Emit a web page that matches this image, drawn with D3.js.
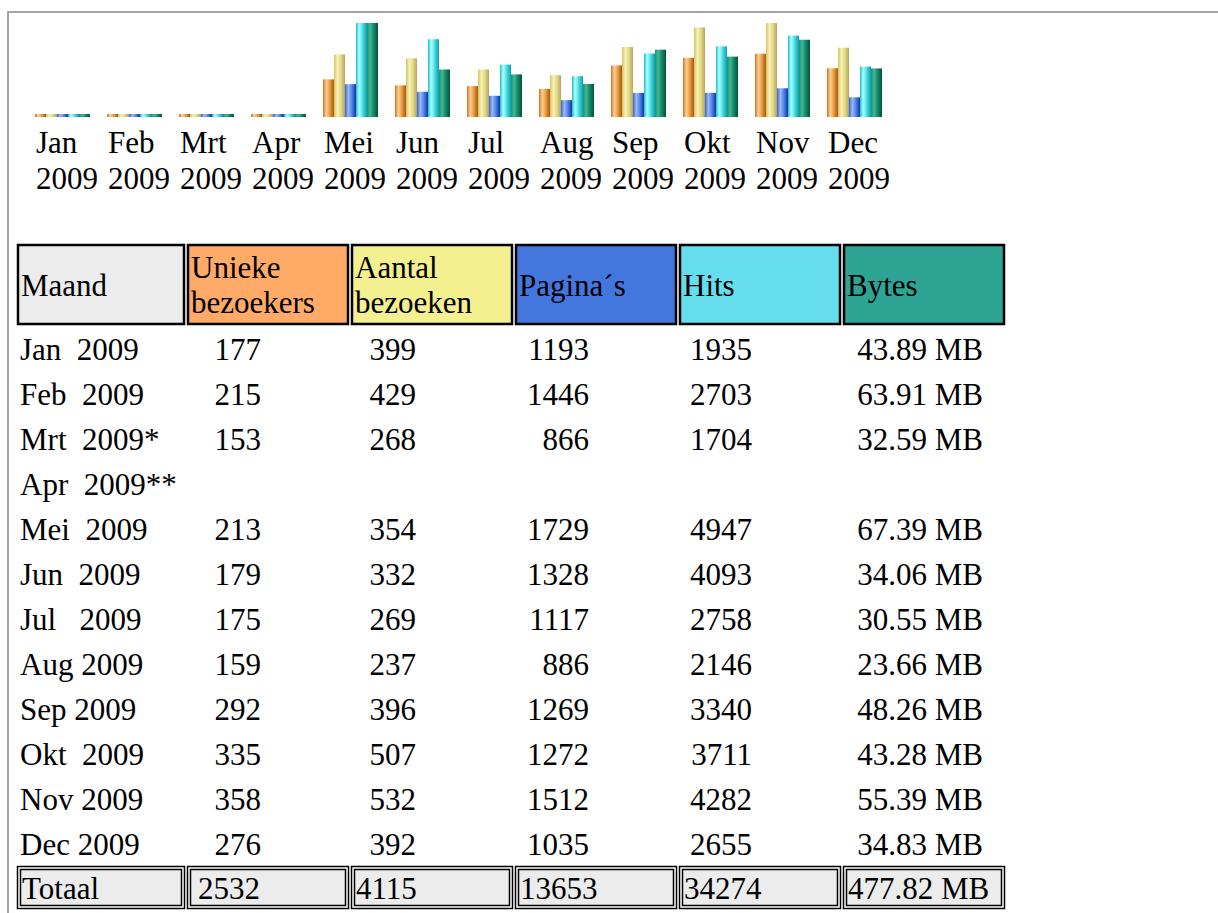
<!DOCTYPE html>
<html>
<head>
<meta charset="utf-8">
<script src="https://cdn.jsdelivr.net/npm/d3@7"></script>
<style>
  body { margin: 0; background: #fff; }
  svg text { font-family: "Liberation Serif", "Times New Roman", serif; font-size: 31px; fill: #000; white-space: pre; }
</style>
</head>
<body>
<div id="chart"></div>
<script>
;(function() {
    // maanden en de waarden uit de tabel
    var maanden = ['Jan', 'Feb', 'Mrt', 'Apr', 'Mei', 'Jun', 'Jul', 'Aug', 'Sep', 'Okt', 'Nov', 'Dec'];
    var jaar = '2009';
    var rijLabels = ['Jan  2009', 'Feb  2009', 'Mrt  2009*', 'Apr  2009**', 'Mei  2009', 'Jun  2009',
                     'Jul   2009', 'Aug 2009', 'Sep 2009', 'Okt  2009', 'Nov 2009', 'Dec 2009'];
    var uniek    = [177, 215, 153, null, 213, 179, 175, 159, 292, 335, 358, 276];
    var bezoeken = [399, 429, 268, null, 354, 332, 269, 237, 396, 507, 532, 392];
    var paginas  = [1193, 1446, 866, null, 1729, 1328, 1117, 886, 1269, 1272, 1512, 1035];
    var hits     = [1935, 2703, 1704, null, 4947, 4093, 2758, 2146, 3340, 3711, 4282, 2655];
    var bytesMB  = [43.89, 63.91, 32.59, null, 67.39, 34.06, 30.55, 23.66, 48.26, 43.28, 55.39, 34.83];
    // de grafiek heeft pas gegevens vanaf mei, jan-apr staan er leeg in
    var inGrafiek = [0, 0, 0, 0, 1, 1, 1, 1, 1, 1, 1, 1];
    var koppen = [['Maand'], ['Unieke', 'bezoekers'], ['Aantal', 'bezoeken'], ['Pagina\u00b4s'], ['Hits'], ['Bytes']];
    var totalen = ['Totaal', '2532', '4115', '13653', '34274', '477.82 MB'];

    var kopKleuren = ['#ececec', '#ffaa66', '#f4f090', '#4477dd', '#66dded', '#2ea495'];
    var staafVerloop = [
        ['#cf7414', '#ffcf98', '#eba04a', '#a65606'],
        ['#d6c45a', '#f6f1b6', '#e6dc8c', '#b3a455'],
        ['#3364de', '#9cb8fa', '#5b86ea', '#0d33a8'],
        ['#14c6cf', '#b4ffff', '#4cdde4', '#0f9ea6'],
        ['#0e9a72', '#46b59a', '#17876a', '#005533']
    ];

    var W = 1218, H = 913, basis = 117, maxH = 94;

    var svg = d3.select('#chart').append('svg')
        .attr('width', W).attr('height', H);

    var defs = svg.append('defs');
    staafVerloop.forEach(function(c, i) {
        var g = defs.append('linearGradient').attr('id', 'vl' + i)
            .attr('x1', 0).attr('x2', 1).attr('y1', 0).attr('y2', 0);
        [0, 0.3, 0.6, 1].forEach(function(o, j) {
            g.append('stop').attr('offset', o).attr('stop-color', c[j]);
        });
    });

    // grijze rand boven en links
    svg.append('path')
        .attr('d', 'M8,' + H + 'V12H' + W)
        .attr('fill', 'none').attr('stroke', '#a3a3a3').attr('stroke-width', 2);

    // staafgrafiek
    var x = d3.scaleBand().domain(maanden).range([35, 882]).paddingInner(17 / 72).paddingOuter(0);
    var xs = d3.scaleBand().domain(d3.range(5)).range([0, x.bandwidth()]);

    var grafiekWaarde = function(reeks) {
        return reeks.map(function(v, i) { return inGrafiek[i] ? v : 0; });
    };
    var reeksen = [grafiekWaarde(uniek), grafiekWaarde(bezoeken), grafiekWaarde(paginas),
                   grafiekWaarde(hits), grafiekWaarde(bytesMB)];

    var yBezoek = d3.scaleLinear().domain([0, d3.max(reeksen[1])]).range([0, maxH]);
    var yHits = d3.scaleLinear().domain([0, d3.max(reeksen[3])]).range([0, maxH]);
    var yBytes = d3.scaleLinear().domain([0, d3.max(reeksen[4])]).range([0, maxH]);
    var schalen = [yBezoek, yBezoek, yHits, yHits, yBytes];

    var groepen = svg.selectAll('g.maand')
        .data(maanden)
        .enter().append('g')
        .attr('class', 'maand')
        .attr('transform', function(d) { return 'translate(' + x(d) + ',0)'; });

    groepen.selectAll('rect')
        .data(function(d, i) {
            return reeksen.map(function(r, s) { return { s: s, h: Math.max(3, schalen[s](r[i])) }; });
        })
        .enter().append('rect')
        .attr('x', function(d) { return xs(d.s); })
        .attr('width', xs.bandwidth())
        .attr('y', function(d) { return basis - d.h; })
        .attr('height', function(d) { return d.h; })
        .attr('fill', function(d) { return 'url(#vl' + d.s + ')'; });

    groepen.append('text').attr('x', 1).attr('y', 153).text(function(d) { return d; });
    groepen.append('text').attr('x', 1).attr('y', 189).text(jaar);

    // tabel
    var kolX = [17, 187, 351, 515, 679, 843];
    var kolB = [168, 162, 162, 162, 162, 162];
    var kop = svg.append('g').attr('class', 'kop');

    kop.selectAll('rect')
        .data(koppen)
        .enter().append('rect')
        .attr('x', function(d, i) { return kolX[i] + 1; })
        .attr('y', 245)
        .attr('width', function(d, i) { return kolB[i] - 2; })
        .attr('height', 79)
        .attr('fill', function(d, i) { return kopKleuren[i]; })
        .attr('stroke', '#000').attr('stroke-width', 2.5);

    kop.selectAll('text')
        .data(koppen)
        .enter().append('text')
        .attr('x', function(d, i) { return kolX[i] + 4; })
        .each(function(d) {
            var t = d3.select(this);
            if (d.length === 1) {
                t.attr('y', 296).text(d[0]);
            } else {
                d.forEach(function(regel, j) {
                    t.append('tspan').attr('x', t.attr('x')).attr('y', 278 + j * 35).text(regel);
                });
            }
        });

    var y = d3.scalePoint().domain(d3.range(rijLabels.length)).range([360, 855]);
    var kolommen = [uniek, bezoeken, paginas, hits, bytesMB];
    var kolEind = [261, 416, 589, 752, 983];
    var fmtMB = function(v) { return d3.format('.2f')(v) + ' MB'; };

    var rijen = svg.selectAll('g.rij')
        .data(rijLabels)
        .enter().append('g')
        .attr('class', 'rij')
        .attr('transform', function(d, i) { return 'translate(0,' + y(i) + ')'; });

    rijen.append('text').attr('x', 20).text(function(d) { return d; });

    kolommen.forEach(function(kol, k) {
        rijen.append('text')
            .attr('x', kolEind[k])
            .attr('text-anchor', 'end')
            .text(function(d, i) {
                var v = kol[i];
                if (v == null) return '';
                return k === 4 ? fmtMB(v) : v;
            });
    });

    // totaalregel met dubbele rand
    var tot = svg.selectAll('g.totaal')
        .data(totalen)
        .enter().append('g')
        .attr('class', 'totaal')
        .attr('transform', function(d, i) { return 'translate(' + kolX[i] + ',866)'; });

    tot.append('rect')
        .attr('x', 0.5).attr('y', 0.5)
        .attr('width', function(d, i) { return kolB[i] - 1; })
        .attr('height', 42)
        .attr('fill', '#fff').attr('stroke', '#000').attr('stroke-width', 1.5);
    tot.append('rect')
        .attr('x', 3.5).attr('y', 3.5)
        .attr('width', function(d, i) { return kolB[i] - 7; })
        .attr('height', 36)
        .attr('fill', '#ececec').attr('stroke', '#000').attr('stroke-width', 1.5);
    tot.append('text')
        .attr('x', function(d, i) { return i === 1 ? 11 : 5; })
        .attr('y', 33)
        .text(function(d) { return d; });
})();
</script>
</body>
</html>
